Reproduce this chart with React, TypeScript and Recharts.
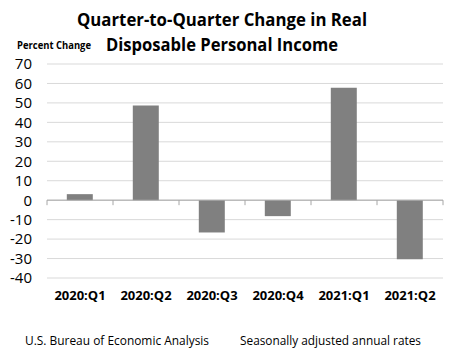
import React from "react";
import { BarChart, Bar, XAxis, YAxis, CartesianGrid, ReferenceLine } from "recharts";

const categories = ["2020:Q1", "2020:Q2", "2020:Q3", "2020:Q4", "2021:Q1", "2021:Q2"];
const changes = [3.1, 48.7, -16.6, -8.2, 57.8, -30.4];
const yTicks = [-40, -30, -20, -10, 0, 10, 20, 30, 40, 50, 60, 70];
const titleLines = ["Quarter-to-Quarter Change in Real", "Disposable Personal Income"];
const unitLabel = "Percent Change";
const sourceNote = "U.S. Bureau of Economic Analysis";
const rateNote = "Seasonally adjusted annual rates";

const data = categories.map((c, i) => ({ quarter: c, value: changes[i] }));

const FONT = "'Open Sans', sans-serif";

const ZeroAxis = (props: any) => {
  const { x1, y1, x2 } = props;
  const n = categories.length;
  const step = (x2 - x1) / n;
  const ticks = [];
  for (let i = 0; i <= n; i++) {
    const x = x1 + step * i;
    ticks.push(<line key={i} x1={x} x2={x} y1={y1} y2={y1 + 5} stroke="#a6a6a6" strokeWidth={1} />);
  }
  return (
    <g>
      <line x1={x1} x2={x2} y1={y1} y2={y1} stroke="#a6a6a6" strokeWidth={1} />
      {ticks}
    </g>
  );
};

const XTick = (props: any) => {
  const { x, y, payload } = props;
  return (
    <text x={x} y={y} dy={12} textAnchor="middle" fontFamily={FONT} fontWeight={700} fontSize={13} fill="#000">
      {payload.value}
    </text>
  );
};

export default function App() {
  return (
    <div style={{ position: "absolute", left: 0, top: 0, width: 462, height: 361, background: "#fff" }}>
      <BarChart
        width={462}
        height={361}
        data={data}
        margin={{ top: 64, right: 19, bottom: 53, left: 7 }}
        barCategoryGap="30%"
      >
        <CartesianGrid horizontal vertical={false} stroke="#d9d9d9" />
        <XAxis dataKey="quarter" axisLine={false} tickLine={false} tickSize={0} tickMargin={10} height={30} tick={<XTick />} interval={0} />
        <YAxis
          domain={[-40, 70]}
          ticks={yTicks}
          width={40}
          axisLine={false}
          tickLine={false}
          tickSize={0}
          tickMargin={15}
          interval={0}
          tick={{ fontFamily: FONT, fontSize: 15, fill: "#000" }}
        />
        <Bar dataKey="value" fill="#808080" isAnimationActive={false} />
        <ReferenceLine y={0} shape={<ZeroAxis />} />
      </BarChart>
      <svg width={462} height={361} style={{ position: "absolute", left: 0, top: 0, pointerEvents: "none" }}>
        <text x={222} y={26} textAnchor="middle" fontFamily={FONT} fontWeight={700} fontSize={18} textLength={290} lengthAdjust="spacingAndGlyphs" fill="#000">
          {titleLines[0]}
        </text>
        <text x={222} y={51} textAnchor="middle" fontFamily={FONT} fontWeight={700} fontSize={18} textLength={232} lengthAdjust="spacingAndGlyphs" fill="#000">
          {titleLines[1]}
        </text>
        <text x={17} y={49} fontFamily={FONT} fontWeight={700} fontSize={10} textLength={74} lengthAdjust="spacingAndGlyphs" fill="#000">
          {unitLabel}
        </text>
        <text x={25} y={345} fontFamily={FONT} fontSize={12} textLength={184} lengthAdjust="spacingAndGlyphs" fill="#000">
          {sourceNote}
        </text>
        <text x={240} y={345} fontFamily={FONT} fontSize={12} textLength={181} lengthAdjust="spacingAndGlyphs" fill="#000">
          {rateNote}
        </text>
      </svg>
    </div>
  );
}
